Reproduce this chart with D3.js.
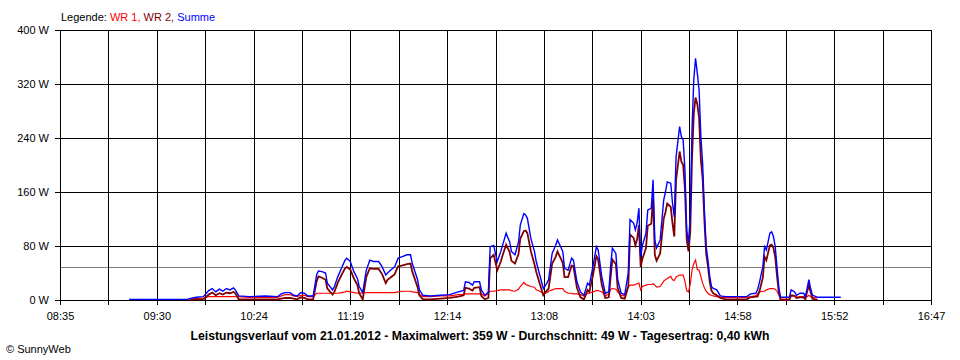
<!DOCTYPE html>
<html><head><meta charset="utf-8">
<script src="https://cdn.jsdelivr.net/npm/d3@7"></script>
<style>
body{margin:0;background:#fff}
svg{display:block}
text{font-family:"Liberation Sans",Arial,sans-serif}
</style>
</head><body><svg id="chart" width="960" height="360"></svg>
<script>
// ---------- data ----------
const times = ["09:14","09:47","09:48","09:52","09:56","09:59","10:01","10:03","10:05","10:07","10:09","10:11","10:13","10:14","10:16","10:22","10:31","10:38","10:40","10:42","10:45","10:47","10:49","10:51","10:53","10:55","10:58",
"11:00","11:01","11:03","11:05","11:06","11:09","11:10","11:12","11:14","11:16","11:17","11:19","11:21","11:23","11:24","11:26","11:28","11:30","11:32","11:35","11:37","11:39","11:40","11:43","11:44","11:46","11:48","11:51","11:53","11:54","11:57","11:58",
"12:00","12:04","12:10","12:15","12:20","12:23","12:24","12:26","12:28","12:29","12:32","12:33","12:35","12:37","12:38","12:40","12:42","12:44","12:45","12:47","12:49","12:50","12:52","12:54","12:55","12:57","12:58","12:59",
"13:01","13:03","13:04","13:06","13:08","13:10","13:11","13:13","13:15","13:16","13:19","13:20","13:22","13:24","13:25","13:27","13:29","13:31","13:33","13:34","13:36","13:38","13:39","13:41","13:43","13:45","13:46","13:47","13:49","13:50","13:52","13:54","13:56","13:57","13:59",
"14:00","14:01","14:02","14:03","14:04","14:06","14:07","14:09","14:10","14:11","14:12","14:14","14:16","14:17","14:18","14:20","14:21","14:22","14:23","14:25","14:26","14:27","14:28","14:29","14:30","14:31","14:32","14:33","14:34","14:35","14:36","14:37","14:38","14:39","14:40","14:41","14:42","14:43","14:44","14:46","14:48","14:51","14:56",
"15:03","15:05","15:08","15:09","15:10","15:12","15:13","15:14","15:16","15:17","15:18","15:19","15:20","15:21","15:22","15:27","15:28","15:30","15:31","15:33","15:35","15:36","15:37","15:38","15:39","15:40","15:43","15:56"];

const summe = [1,1,2,4,5,14,17,12,16,13,17,15,18,15,6,5,6,5,9,11,11,7,6,11,10,6,6,
38,43,42,40,25,15,20,35,47,59,62,57,42,32,20,11,44,59,57,57,49,37,40,47,49,62,64,67,67,54,30,15,
7,6,7,8,12,14,27,26,22,27,27,15,7,12,79,81,57,72,81,99,86,72,67,86,111,128,126,121,
91,72,57,37,17,25,30,69,81,89,72,47,44,62,59,27,12,7,25,22,49,79,74,35,10,12,49,77,69,30,10,8,40,119,114,
104,114,136,64,81,99,133,136,178,89,77,89,148,160,175,173,143,123,212,257,242,237,193,104,84,123,252,326,358,336,311,242,202,133,79,59,35,20,17,15,6,5,5,
5,9,10,15,25,49,79,74,99,101,94,79,49,20,4,4,15,12,7,10,10,5,17,30,17,7,4,4];

const wr2 = [null,null,0,1,1,8,11,7,10,8,11,10,12,10,1,1,1,1,2,3,3,2,1,4,3,1,1,
28,35,33,30,17,8,12,26,37,47,49,45,32,22,10,1,34,47,46,46,38,25,30,36,38,50,51,53,54,42,19,7,
1,1,2,3,5,7,18,17,14,18,19,6,1,3,62,67,44,57,66,82,71,58,54,68,91,102,103,99,
72,53,42,24,7,14,17,54,64,72,55,34,34,51,50,18,4,1,15,12,36,65,60,23,3,4,33,60,53,18,3,2,20,97,92,
81,90,111,49,61,77,110,113,154,67,58,69,120,130,143,138,113,94,178,220,205,200,165,90,72,100,210,276,300,290,270,208,180,118,69,50,27,14,10,7,3,1,1,
1,4,5,5,12,33,64,59,81,82,77,64,36,12,0,0,7,6,3,4,4,1,12,22,12,2,0,null];

const wr1 = [null,null,1,2,3,5,5,5,5,5,5,5,5,5,5,4,4,4,6,8,8,6,5,7,7,5,5,
10,10,10,10,10,10,10,10,11,12,13,12,11,10,11,10,11,11,11,11,11,11,11,11,11,12,13,13,13,12,11,8,
5,5,6,6,8,8,9,9,9,9,9,9,6,10,13,13,14,15,15,15,15,14,13,16,20,26,23,22,
20,19,15,13,10,11,13,15,17,17,17,13,10,10,9,9,8,6,10,10,12,14,14,12,7,8,16,17,16,12,7,6,20,22,22,
23,24,25,15,20,22,23,23,24,22,19,20,28,30,32,35,30,29,34,37,37,37,28,14,12,23,44,54,59,45,44,35,25,18,13,10,8,7,6,5,4,4,4,
4,5,6,9,12,13,13,15,17,17,17,16,13,8,3,3,6,6,4,5,5,4,5,7,5,4,3,null];

const average = 49;
const yTicks = [0, 80, 160, 240, 320, 400];
const xDomain = ["08:35", "16:47"];
const xTickLabels = ["08:35","09:30","10:24","11:19","12:14","13:08","14:03","14:58","15:52","16:47"];
const legendLabels = ["WR 1", "WR 2", "Summe"];
const titleText = "Leistungsverlauf vom 21.01.2012 - Maximalwert: 359 W - Durchschnitt: 49 W - Tagesertrag: 0,40 kWh";
const creditText = "\u00A9 SunnyWeb";

// ---------- drawing ----------
const colors = {wr1: "#ff0000", wr2: "#800000", summe: "#0000ff"};
const L = 60, R = 931, T = 30, B = 300;
const svg = d3.select("#chart");
svg.append("rect").attr("width", 960).attr("height", 360).attr("fill", "#fff");

const parse = d3.timeParse("%H:%M");
const t0 = parse(xDomain[0]), t1 = parse(xDomain[1]);
const x = d3.scaleTime().domain([t0, t1]).range([L, R]);
const y = d3.scaleLinear().domain([0, 400]).range([B, T]);

const nGrid = (xTickLabels.length - 1) * 2;
const gridTimes = d3.range(nGrid + 1).map(i => new Date(+t0 + i * (t1 - t0) / nGrid));

// average line
svg.append("line")
  .attr("x1", L).attr("x2", R)
  .attr("y1", Math.round(y(average)) + 0.5).attr("y2", Math.round(y(average)) + 0.5)
  .attr("stroke", "#808080").attr("stroke-width", 1);

// x axis + vertical grid
const gx = svg.append("g").attr("transform", `translate(0,${B})`)
  .call(d3.axisBottom(x).tickValues(gridTimes).tickSize(-(B - T)).tickPadding(12)
    .tickFormat((d, i) => i % 2 === 0 ? xTickLabels[i / 2] : ""));
gx.select(".domain").remove();
gx.selectAll(".tick line").attr("y1", 5).attr("stroke", "#000").attr("shape-rendering", "crispEdges");
gx.selectAll(".tick text").attr("font-size", 11).attr("fill", "#000")
  .attr("font-family", '"Liberation Sans",Arial,sans-serif');

// y axis + horizontal grid
const gy = svg.append("g").attr("transform", `translate(${L},0)`)
  .call(d3.axisLeft(y).tickValues(yTicks).tickSize(-(R - L)).tickPadding(11)
    .tickFormat(d => d + " W"));
gy.select(".domain").remove();
gy.selectAll(".tick line").attr("x1", -5).attr("stroke", "#000").attr("shape-rendering", "crispEdges");
gy.selectAll(".tick text").attr("font-size", 11).attr("fill", "#000")
  .attr("font-family", '"Liberation Sans",Arial,sans-serif');

// data lines
const pts = times.map(parse);
function drawSeries(vals, color, width) {
  const line = d3.line()
    .defined((d, i) => vals[i] !== null)
    .x((d, i) => x(pts[i]))
    .y((d, i) => y(vals[i]));
  svg.append("path").datum(vals).attr("d", line)
    .attr("fill", "none").attr("stroke", color).attr("stroke-width", width)
    .attr("stroke-linejoin", "miter");
}
drawSeries(wr1, colors.wr1, 1.2);
drawSeries(wr2, colors.wr2, 1.8);
drawSeries(summe, colors.summe, 1.4);

// legend
const lg = svg.append("text").attr("x", 61).attr("y", 20.5).attr("font-size", 11).attr("fill", "#000");
lg.append("tspan").text("Legende: ");
const legColors = [colors.wr1, colors.wr2, colors.summe];
legendLabels.forEach((lab, i) => {
  lg.append("tspan").attr("fill", legColors[i]).text(lab + (i < legendLabels.length - 1 ? ", " : ""));
});

// title
svg.append("text").attr("x", 480).attr("y", 340).attr("text-anchor", "middle")
  .attr("font-size", 12.2).attr("font-weight", "bold").attr("fill", "#000").text(titleText);

// credit
svg.append("text").attr("x", 6).attr("y", 353).attr("font-size", 11).attr("fill", "#000").text(creditText);
</script>
</body></html>
